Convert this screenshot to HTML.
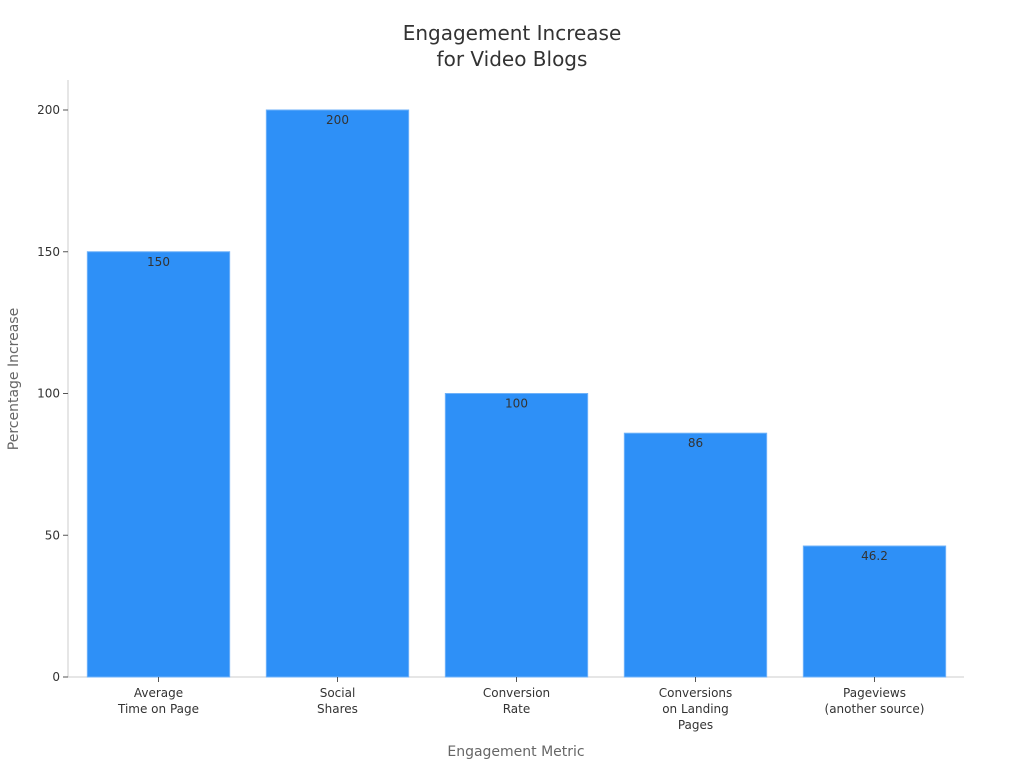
<!DOCTYPE html>
<html><head><meta charset="utf-8"><style>
body{margin:0;background:#fff;}
svg text{font-family:"DejaVu Sans","Liberation Sans",sans-serif;}
</style></head><body>
<svg id="chart" width="1024" height="768">
<text x="512" y="40" text-anchor="middle" font-size="20" fill="#333">Engagement Increase</text>
<text x="512" y="66" text-anchor="middle" font-size="20" fill="#333">for Video Blogs</text>
<text x="516" y="756" text-anchor="middle" font-size="14" fill="#666">Engagement Metric</text>
<text transform="translate(18,379) rotate(-90)" text-anchor="middle" font-size="14" fill="#666">Percentage Increase</text>
</svg>
<script>
const categories=[["Average","Time on Page"],["Social","Shares"],["Conversion","Rate"],["Conversions","on Landing","Pages"],["Pageviews","(another source)"]];
const values=[150,200,100,86,46.2];
const valueLabels=["150","200","100","86","46.2"];
const yTicks=[0,50,100,150,200];
const svg=document.getElementById('chart');
const NS='http://www.w3.org/2000/svg';
const x0=69,x1=964,y0=677,yTop=110;
const y=v=>y0-(v/200)*(y0-yTop);
const band=(x1-x0)/categories.length;
const bw=band*0.795;
function mk(t,a){const e=document.createElementNS(NS,t);for(const k in a)e.setAttribute(k,a[k]);svg.appendChild(e);return e;}
let ax=mk('line',{x1:x0-1,y1:80,x2:x0-1,y2:y0,stroke:'#ccc'});


let bx=mk('line',{x1:x0-1,y1:y0,x2:x1,y2:y0,stroke:'#ccc'});


yTicks.forEach(t=>{
 const l=mk('line',{x1:x0-6,y1:y(t),x2:x0-1,y2:y(t),stroke:'#555'});
 
 
 const tx=mk('text',{x:x0-9,y:y(t)+4,'text-anchor':'end','font-size':12,fill:'#333'});
 tx.textContent=t;
 
 
});
values.forEach((v,i)=>{
 const cx=x0+band*(i+0.5);
 const r=mk('rect',{x:cx-bw/2,y:y(v),width:bw,height:y0-y(v),fill:'#2e90f7',stroke:'#6fb2f9','stroke-width':1});
 
 
 const vl=mk('text',{x:cx,y:y(v)+14,'text-anchor':'middle','font-size':12,fill:'#333'});
 vl.textContent=valueLabels[i];
 
 
 const tk=mk('line',{x1:cx,y1:y0,x2:cx,y2:y0+5,stroke:'#555'});
 
 
 categories[i].forEach((s,j)=>{
  const t=mk('text',{x:cx,y:y0+20+j*16,'text-anchor':'middle','font-size':12,fill:'#333'});
  t.textContent=s;
  
  
 });
});
</script>
</body></html>
